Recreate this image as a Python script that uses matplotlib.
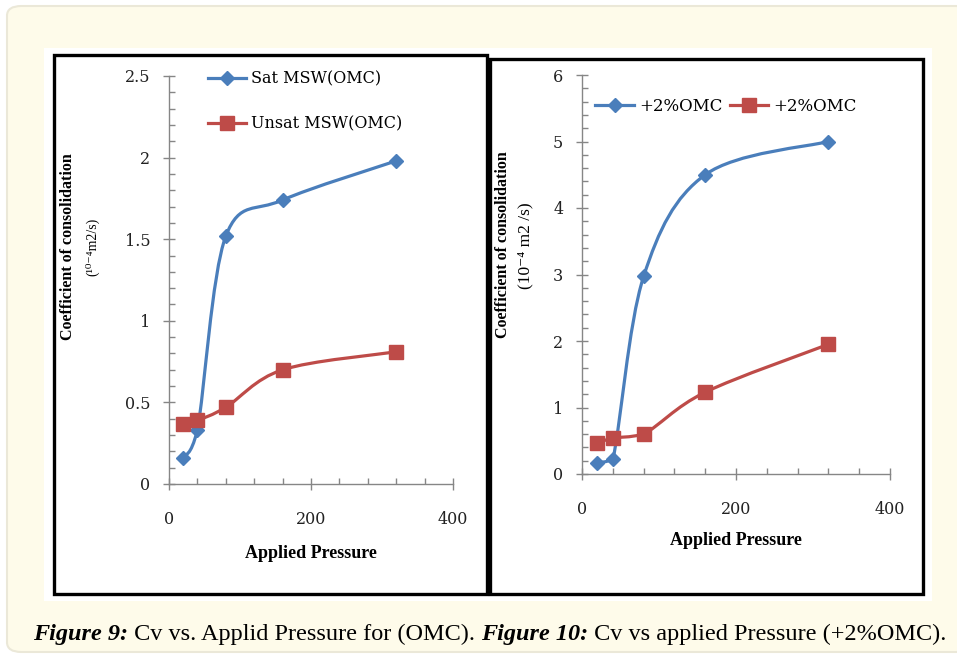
import matplotlib
matplotlib.use("Agg")
import matplotlib.pyplot as plt
from matplotlib.path import Path
from matplotlib.patches import PathPatch, Rectangle, FancyBboxPatch
from matplotlib.text import Annotation
import numpy as np

# data
pressure = [20, 40, 80, 160, 320]
sat_omc = [0.16, 0.33, 1.52, 1.74, 1.98]
unsat_omc = [0.37, 0.39, 0.47, 0.70, 0.81]
plus2_blue = [0.17, 0.22, 2.97, 4.50, 5.00]
plus2_red = [0.46, 0.54, 0.60, 1.23, 1.95]

left_labels = ["Sat MSW(OMC)", "Unsat MSW(OMC)"]
right_labels = ["+2%OMC", "+2%OMC"]

BLUE = "#4a7ebb"
RED = "#be4b48"
W, H = 957, 656
SERIF = ["Liberation Serif", "DejaVu Serif"]
TICKF = ["DejaVu Serif"]


def px(x, y):
    # pixel (from top-left) -> figure fraction
    return x / W, 1 - y / H


def smooth_line(ax, xs, ys, color):
    # excel style smoothed line (cubic bezier through the points),
    # control points kept inside each segment so it does not overshoot
    xs = np.asarray(xs, float)
    ys = np.asarray(ys, float)
    n = len(xs)
    verts = [(xs[0], ys[0])]
    codes = [Path.MOVETO]
    for i in range(n - 1):
        i0 = max(i - 1, 0)
        i3 = min(i + 2, n - 1)
        lo, hi = sorted([ys[i], ys[i + 1]])
        c1 = (xs[i] + (xs[i + 1] - xs[i0]) / 6,
              np.clip(ys[i] + (ys[i + 1] - ys[i0]) / 6, lo, hi))
        c2 = (xs[i + 1] - (xs[i3] - xs[i]) / 6,
              np.clip(ys[i + 1] - (ys[i3] - ys[i]) / 6, lo, hi))
        verts += [c1, c2, (xs[i + 1], ys[i + 1])]
        codes += [Path.CURVE4] * 3
    ax.add_patch(PathPatch(Path(verts, codes), fill=False, edgecolor=color,
                           lw=2.3, capstyle="round", joinstyle="round", zorder=3))


def style_axes(ax, ymax, ymajor, yminor):
    ax.set_zorder(2)
    ax.set_xlim(0, 400)
    ax.set_ylim(0, ymax)
    for s in ["top", "right"]:
        ax.spines[s].set_visible(False)
    for s in ["left", "bottom"]:
        ax.spines[s].set_color("#868686")
        ax.spines[s].set_linewidth(1.0)
    ax.set_xticks([0, 200, 400])
    ax.set_xticks(np.arange(40, 400, 40), minor=True)
    ax.set_yticks(np.arange(0, ymax + 0.001, ymajor))
    ax.set_yticks(np.arange(0, ymax + 0.001, yminor), minor=True)
    ax.tick_params(which="major", direction="inout", length=9, width=1,
                   color="#868686", labelsize=11.5, pad=9)
    ax.tick_params(which="minor", direction="in", length=4.5, width=1,
                   color="#868686")
    ax.tick_params(axis="x", which="major", pad=15)
    ax.set_facecolor("none")


def finish_ticks(ax):
    for t in ax.get_xticklabels() + ax.get_yticklabels():
        t.set_family(TICKF)
        t.set_color("#222222")


fig = plt.figure(figsize=(W / 100, H / 100), dpi=100)
fig.patch.set_facecolor("white")

# page background
x0, y0 = px(7, 652)
fig.patches.append(FancyBboxPatch((x0, y0), (970 - 7) / W, (652 - 6) / H,
                                  boxstyle="round,pad=0,rounding_size=0.015",
                                  transform=fig.transFigure, facecolor="#fefbea",
                                  edgecolor="#ebe8d8", lw=1.5, zorder=0))
x0, y0 = px(44, 601)
fig.patches.append(Rectangle((x0, y0), (932 - 44) / W, (601 - 48) / H,
                             transform=fig.transFigure, facecolor="white",
                             edgecolor="none", zorder=0.5))
# panel frames
for (l, t, r, b) in [(54, 55, 487, 594), (490, 59, 923, 594)]:
    x0, y0 = px(l, b)
    fig.patches.append(Rectangle((x0, y0), (r - l) / W, (b - t) / H,
                                 transform=fig.transFigure, facecolor="none",
                                 edgecolor="black", lw=2.4, zorder=1))

# left figure
ax1 = fig.add_axes([169 / W, 1 - 484 / H, 284 / W, 408 / H])
style_axes(ax1, 2.5, 0.5, 0.1)
ax1.set_yticklabels(["0", "0.5", "1", "1.5", "2", "2.5"])
finish_ticks(ax1)
smooth_line(ax1, pressure, sat_omc, BLUE)
ax1.plot(pressure, sat_omc, ls="none", marker="D", ms=7.5, color=BLUE,
         zorder=4)
smooth_line(ax1, pressure, unsat_omc, RED)
ax1.plot(pressure, unsat_omc, ls="none", marker="s", ms=10.5, color=RED,
         zorder=5)
lh1, = ax1.plot([], [], color=BLUE, lw=2.3, marker="D", ms=7.5)
lh2, = ax1.plot([], [], color=RED, lw=2.3, marker="s", ms=10.5)
ax1.legend([lh1, lh2], left_labels, loc="upper left",
           bbox_to_anchor=(0.085, 1.048), frameon=False, handlelength=2.4,
           handletextpad=0.3, labelspacing=1.75,
           prop={"family": TICKF, "size": 11.5})
ax1.set_xlabel("Applied Pressure", family=SERIF, weight="bold", fontsize=13,
               labelpad=12)
fig.text(*px(68, 247), "Coefficient of consolidation", rotation=90,
         ha="center", va="center", family=SERIF, weight="bold", fontsize=11.5)
fig.text(*px(92, 247), "(\u00b9\u2070\u207b\u2074m2/s)", rotation=90,
         ha="center", va="center", family=SERIF, fontsize=10)

# right figure
ax2 = fig.add_axes([582 / W, 1 - 474 / H, 308 / W, 399 / H])
style_axes(ax2, 6, 1, 0.2)
finish_ticks(ax2)
smooth_line(ax2, pressure, plus2_blue, BLUE)
ax2.plot(pressure, plus2_blue, ls="none", marker="D", ms=7.5, color=BLUE,
         zorder=4)
smooth_line(ax2, pressure, plus2_red, RED)
ax2.plot(pressure, plus2_red, ls="none", marker="s", ms=10.5, color=RED,
         zorder=5)
lh3, = ax2.plot([], [], color=BLUE, lw=2.3, marker="D", ms=7.5)
lh4, = ax2.plot([], [], color=RED, lw=2.3, marker="s", ms=10.5)
ax2.legend([lh3, lh4], right_labels, loc="upper left", ncol=2,
           bbox_to_anchor=(-0.005, 0.98), frameon=False, handlelength=2.3,
           handletextpad=0.3, columnspacing=0.45,
           prop={"family": TICKF, "size": 12})
ax2.set_xlabel("Applied Pressure", family=SERIF, weight="bold", fontsize=13,
               labelpad=10)
fig.text(*px(503, 245), "Coefficient of consolidation", rotation=90,
         ha="center", va="center", family=SERIF, weight="bold", fontsize=11.5)
fig.text(*px(525, 246), "(10\u207b\u2074 m2 /s)", rotation=90,
         ha="center", va="center", family=SERIF, fontsize=12.5)

# caption, pieces chained one after the other
parts = [("Figure 9:", True), (" Cv vs. Applid Pressure for (OMC). ", False),
         ("Figure 10:", True), (" Cv vs applied Pressure (+2%OMC).", False)]
prev = None
for txt, bold in parts:
    kw = dict(family=SERIF, fontsize=17.5, color="black",
              weight="bold" if bold else "normal",
              style="italic" if bold else "normal")
    if prev is None:
        prev = fig.text(*px(33, 640), txt, ha="left", va="baseline", **kw)
    else:
        prev = fig.add_artist(Annotation(txt, xy=(1, 0), xycoords=prev,
                                         ha="left", va="bottom", **kw))

fig.savefig("out.png", dpi=100)
